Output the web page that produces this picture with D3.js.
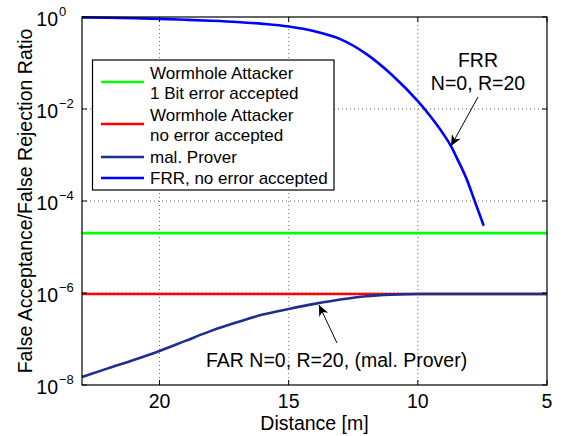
<html>
<script src="https://cdn.jsdelivr.net/npm/d3@7"></script>
<style>
body { margin: 0; background: white; }
text { font-family: "Liberation Sans", Arial, sans-serif; fill: black; }
</style>
<body>
</body>
<script>

// distances (metres, axis runs backwards)
var distance = [23, 22, 21, 20, 19, 18, 17, 16, 15, 14, 13, 12, 11, 10, 9, 8, 7, 6, 5];
var wormhole1Bit = [2e-5, 2e-5, 2e-5, 2e-5, 2e-5, 2e-5, 2e-5, 2e-5, 2e-5, 2e-5, 2e-5, 2e-5, 2e-5, 2e-5, 2e-5, 2e-5, 2e-5, 2e-5, 2e-5];
var wormholeNoErr = [9.5e-7, 9.5e-7, 9.5e-7, 9.5e-7, 9.5e-7, 9.5e-7, 9.5e-7, 9.5e-7, 9.5e-7, 9.5e-7, 9.5e-7, 9.5e-7, 9.5e-7, 9.5e-7, 9.5e-7, 9.5e-7, 9.5e-7, 9.5e-7, 9.5e-7];
var malProver = [1.5e-8, 2.3e-8, 3.5e-8, 5.5e-8, 9.1e-8, 1.5e-7, 2.3e-7, 3.4e-7, 4.5e-7, 5.8e-7, 7.2e-7, 8.5e-7, 9.2e-7, 9.5e-7, 9.5e-7, 9.5e-7, 9.5e-7, 9.5e-7, 9.5e-7];

var frrDist = [23, 22, 21, 20, 19, 18, 17, 16, 15, 14, 13, 12, 11, 10, 9.5, 9, 8.7, 8.5, 8.1, 7.8, 7.45];
var frr = [0.98, 0.96, 0.94, 0.91, 0.87, 0.83, 0.78, 0.71, 0.62, 0.49, 0.33, 0.158, 0.055, 0.0148, 0.0068, 0.0028, 0.0015, 8.9e-4, 2.9e-4, 1.0e-4, 2.9e-5];

var xTicks = [20, 15, 10, 5];
var yTicks = [1e-8, 1e-6, 1e-4, 1e-2, 1];
var yTickExp = ["\u22128", "\u22126", "\u22124", "\u22122", "0"];

var legendLabels = [["Wormhole Attacker", "1 Bit error accepted"], ["Wormhole Attacker", "no error accepted"], ["mal. Prover"], ["FRR, no error accepted"]];
var colors = ["#00ff00", "#ff0000", "#1c2f8f", "#0000ff"];

drawChart();

function drawChart() {
	var W = 565, H = 436;
	var left = 82, right = 547, top = 17, bottom = 385;

	var svg = d3.select("body").append("svg")
		.attr("width", W)
		.attr("height", H);

	var x = d3.scaleLinear().domain([23, 5]).range([left, right]);
	var y = d3.scaleLog().domain([1e-8, 1]).range([bottom, top]);

	// dotted grid
	svg.selectAll(".gx").data([20, 15, 10]).enter().append("line")
		.attr("x1", d => x(d)).attr("x2", d => x(d))
		.attr("y1", top).attr("y2", bottom)
		.attr("stroke", "#444").attr("stroke-width", 0.8)
		.attr("stroke-dasharray", "1,3");
	svg.selectAll(".gy").data([1e-6, 1e-4, 1e-2]).enter().append("line")
		.attr("y1", d => y(d)).attr("y2", d => y(d))
		.attr("x1", left).attr("x2", right)
		.attr("stroke", "#444").attr("stroke-width", 0.8)
		.attr("stroke-dasharray", "1,3");

	var line = d3.line().curve(d3.curveMonotoneX);

	function drawSeries(xs, ys, color) {
		var pts = xs.map((d, i) => [x(d), y(ys[i])]);
		svg.append("path")
			.attr("d", line(pts))
			.attr("fill", "none")
			.attr("stroke", color)
			.attr("stroke-width", 2.6);
	}

	drawSeries(distance, wormhole1Bit, colors[0]);
	drawSeries(distance, wormholeNoErr, colors[1]);
	drawSeries(distance, malProver, colors[2]);
	drawSeries(frrDist, frr, colors[3]);

	// frame and ticks (inward, all four sides)
	svg.append("rect")
		.attr("x", left).attr("y", top)
		.attr("width", right - left).attr("height", bottom - top)
		.attr("fill", "none").attr("stroke", "black").attr("stroke-width", 1.2);

	var tl = 5;
	xTicks.forEach(function(t) {
		svg.append("line").attr("x1", x(t)).attr("x2", x(t)).attr("y1", bottom).attr("y2", bottom - tl).attr("stroke", "black");
		svg.append("line").attr("x1", x(t)).attr("x2", x(t)).attr("y1", top).attr("y2", top + tl).attr("stroke", "black");
		svg.append("text")
			.attr("x", x(t)).attr("y", 408)
			.attr("text-anchor", "middle")
			.style("font-size", "19.5px")
			.text(t);
	});

	yTicks.forEach(function(t, i) {
		svg.append("line").attr("x1", left).attr("x2", left + tl).attr("y1", y(t)).attr("y2", y(t)).attr("stroke", "black");
		svg.append("line").attr("x1", right).attr("x2", right - tl).attr("y1", y(t)).attr("y2", y(t)).attr("stroke", "black");
		var lab = svg.append("text")
			.attr("x", 58).attr("y", y(t) + 9)
			.attr("text-anchor", "end")
			.style("font-size", "19.5px")
			.text("10");
		svg.append("text")
			.attr("x", 59).attr("y", y(t) - 1)
			.style("font-size", "13px")
			.text(yTickExp[i]);
	});

	// axis labels
	svg.append("text")
		.attr("x", (left + right) / 2).attr("y", 430)
		.attr("text-anchor", "middle")
		.style("font-size", "19.5px")
		.text("Distance [m]");

	svg.append("text")
		.attr("transform", "translate(32," + ((top + bottom) / 2) + ") rotate(-90)")
		.attr("text-anchor", "middle")
		.style("font-size", "19.5px")
		.text("False Acceptance/False Rejection Ratio");

	// legend
	svg.append("rect")
		.attr("x", 92.5).attr("y", 60)
		.attr("width", 241.5).attr("height", 130)
		.attr("fill", "white").attr("stroke", "black").attr("stroke-width", 1.2);

	var legLineY = [82, 124, 157, 178];
	var legTextY = [[79, 99], [121, 141], [163], [184]];
	legendLabels.forEach(function(lbl, i) {
		svg.append("line")
			.attr("x1", 101).attr("x2", 144)
			.attr("y1", legLineY[i]).attr("y2", legLineY[i])
			.attr("stroke", colors[i]).attr("stroke-width", 2.6);
		lbl.forEach(function(s, j) {
			svg.append("text")
				.attr("x", 150).attr("y", legTextY[i][j])
				.style("font-size", "17px")
				.text(s);
		});
	});

	// annotations
	function arrow(x1, y1, x2, y2) {
		svg.append("line")
			.attr("x1", x1).attr("y1", y1).attr("x2", x2).attr("y2", y2)
			.attr("stroke", "black").attr("stroke-width", 1);
		var a = Math.atan2(y2 - y1, x2 - x1);
		var L = 11, Wd = 5;
		var bx = x2 - L * Math.cos(a), by = y2 - L * Math.sin(a);
		var nx = x2 - 0.7 * L * Math.cos(a), ny = y2 - 0.7 * L * Math.sin(a);
		var px = -Math.sin(a) * Wd, py = Math.cos(a) * Wd;
		svg.append("path")
			.attr("d", "M" + x2 + "," + y2 + "L" + (bx + px) + "," + (by + py) + "L" + nx + "," + ny + "L" + (bx - px) + "," + (by - py) + "Z")
			.attr("fill", "black");
	}

	svg.append("text")
		.attr("x", 478).attr("y", 67)
		.attr("text-anchor", "middle")
		.style("font-size", "19.5px")
		.text("FRR");
	svg.append("text")
		.attr("x", 478).attr("y", 90)
		.attr("text-anchor", "middle")
		.style("font-size", "19.5px")
		.text("N=0, R=20");
	arrow(478, 97, 451, 146);

	svg.append("text")
		.attr("x", 206).attr("y", 367)
		.style("font-size", "19.5px")
		.text("FAR N=0, R=20, (mal. Prover)");
	arrow(337, 343, 319, 305);
}

</script>
</html>
